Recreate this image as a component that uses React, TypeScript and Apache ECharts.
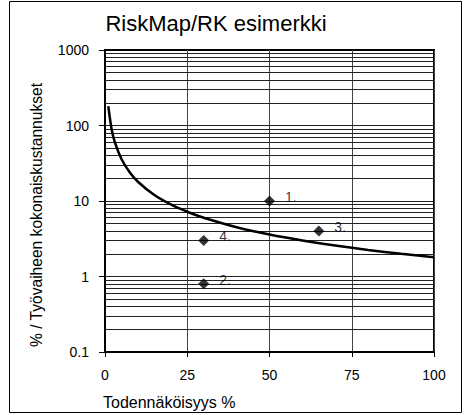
import React, { useEffect, useRef } from "react";
import * as echarts from "echarts";

const curveX = [1, 2, 3, 5, 7.5, 10, 15, 20, 25, 30, 40, 50, 60, 70, 80, 90, 100];
const curveY = [180, 90, 60, 36, 24, 18, 12, 9, 7.2, 6, 4.5, 3.6, 3, 2.57, 2.25, 2, 1.8];

const pointNames = ["1.", "2.", "3.", "4."];
const pointX = [50, 30, 65, 30];
const pointY = [10, 0.8, 4, 3];

const gridValues = [
  0.2, 0.3, 0.4, 0.5, 0.6, 0.7, 0.8, 0.9,
  1, 2, 3, 4, 5, 6, 7, 8, 9,
  10, 20, 30, 40, 50, 60, 70, 80, 90,
  100, 200, 300, 400, 500, 600, 700, 800, 900,
];

const xAxisName = "Todennäköisyys %";
const yAxisName = "% / Työvaiheen kokonaiskustannukset";

const FONT = "'Liberation Sans', Arial, sans-serif";

export default function App() {
  const ref = useRef<HTMLDivElement>(null);
  useEffect(() => {
    document.body.style.margin = "0";
    const chart = echarts.init(ref.current!, null, { renderer: "svg" });
    chart.setOption({
      animation: false,
      backgroundColor: "#fff",
      textStyle: { fontFamily: FONT },
      title: {
        text: "RiskMap/RK esimerkki",
        left: 211,
        top: 7,
        textAlign: "center",
        textStyle: { fontFamily: FONT, fontSize: 22, fontWeight: "normal", color: "#000" },
      },
      graphic: [
        {
          type: "rect",
          shape: { x: 9.5, y: 1.5, width: 452, height: 411 },
          style: { fill: "none", stroke: "#000", lineWidth: 1 },
          z: 100,
        },
        {
          type: "text",
          x: 103,
          y: 402,
          style: {
            text: xAxisName,
            fontFamily: FONT,
            fontSize: 16,
            fill: "#000",
            textAlign: "left",
            textVerticalAlign: "middle",
          },
        },
        {
          type: "text",
          x: 36,
          y: 215,
          rotation: Math.PI / 2,
          style: {
            text: yAxisName,
            fontFamily: FONT,
            fontSize: 15.6,
            fill: "#000",
            textAlign: "center",
            textVerticalAlign: "middle",
          },
        },
      ],
      grid: {
        left: 105,
        right: 30,
        top: 50,
        bottom: 63,
        show: true,
        borderColor: "#000",
        borderWidth: 2,
      },
      xAxis: {
        type: "value",
        min: 0,
        max: 100,
        interval: 25,
        axisLine: { show: true, onZero: false, lineStyle: { color: "#000", width: 2 } },
        axisTick: { show: true, length: 5, lineStyle: { color: "#000" } },
        axisLabel: { fontFamily: FONT, fontSize: 14, color: "#000", margin: 16 },
        splitLine: { show: true, lineStyle: { color: "#444", width: 1 } },
      },
      yAxis: {
        type: "log",
        logBase: 10,
        min: 0.1,
        max: 1000,
        axisLine: { show: true, lineStyle: { color: "#000", width: 2 } },
        axisTick: { show: true, length: 6, lineStyle: { color: "#000" } },
        axisLabel: {
          fontFamily: FONT,
          fontSize: 14,
          color: "#000",
          margin: 16,
          formatter: (v: number) => String(v),
        },
        splitLine: { show: false },
      },
      series: [
        {
          type: "line",
          data: curveX.map((x, i) => [x, curveY[i]]),
          smooth: 0.3,
          symbol: "none",
          lineStyle: { color: "#000", width: 2.5 },
          z: 5,
          markLine: {
            silent: true,
            symbol: "none",
            label: { show: false },
            lineStyle: { color: "#222", width: 1, type: "solid" },
            data: gridValues.map((v) => ({ yAxis: v })),
            z: 1,
          },
        },
        {
          type: "scatter",
          data: pointX.map((x, i) => ({ value: [x, pointY[i]], name: pointNames[i] })),
          symbol: "diamond",
          symbolSize: 11,
          itemStyle: { color: "#000" },
          label: {
            show: true,
            position: "right",
            distance: 10,
            offset: [0, -4],
            formatter: (p: any) => p.name,
            fontFamily: FONT,
            fontSize: 14,
            color: "#000",
          },
          z: 10,
        },
      ],
    });
    return () => chart.dispose();
  }, []);
  return <div ref={ref} style={{ width: 464, height: 415 }} />;
}
